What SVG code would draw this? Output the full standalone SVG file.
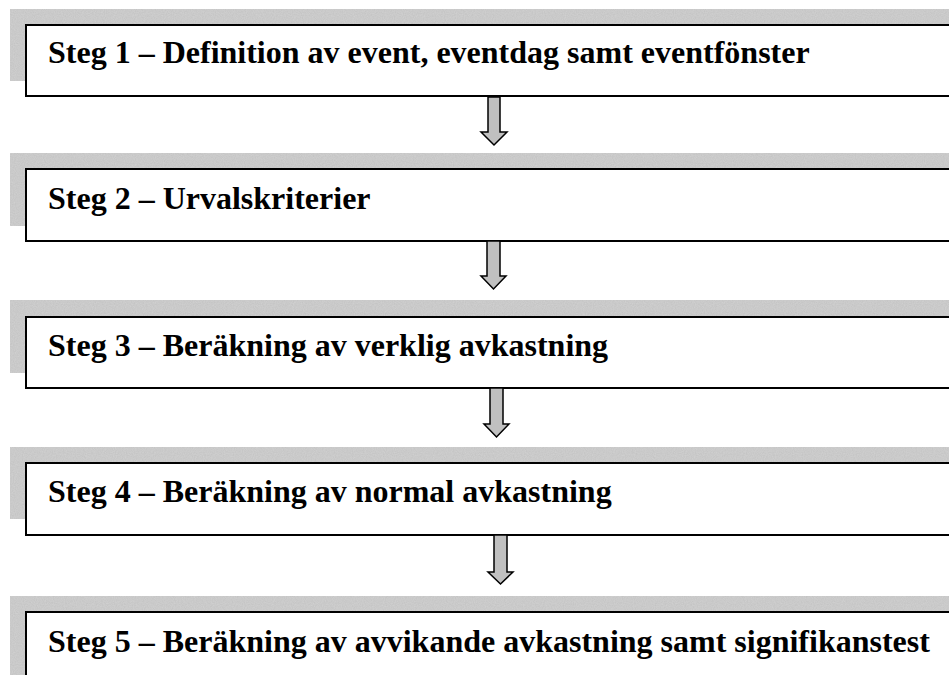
<svg xmlns="http://www.w3.org/2000/svg" width="949" height="675" viewBox="0 0 949 675">
  <defs>
    <filter id="grain" x="0" y="0" width="100%" height="100%">
      <feTurbulence type="fractalNoise" baseFrequency="0.9" numOctaves="2" seed="3" result="n"/>
      <feColorMatrix in="n" type="matrix" values="0 0 0 0 0.74  0 0 0 0 0.74  0 0 0 0 0.74  0.9 0 0 0 0" result="g"/>
      <feComposite in="g" in2="SourceGraphic" operator="in"/>
    </filter>
  </defs>
  <style>
    .shadow { fill: #c2c2c2; }
    .grain { fill: #ffffff; filter: url(#grain); }
    .box { fill: #ffffff; stroke: #000000; stroke-width: 2; }
    .label { font-family: "Liberation Serif", "Times New Roman", serif; font-weight: bold; font-size: 32px; fill: #000000; }
    .arrow { fill: #c0c0c0; stroke: #000000; stroke-width: 1.5; stroke-linejoin: miter; }
  </style>

  <!-- Step 1 -->
  <g id="step1">
    <rect class="shadow" x="10" y="9" width="950" height="72"/>
    <rect class="grain" x="10" y="9" width="950" height="72" opacity="0.6"/>
    <rect class="box" x="26" y="25" width="940" height="71"/>
    <text class="label" x="48" y="63">Steg 1 – Definition av event, eventdag samt eventfönster</text>
  </g>

  <!-- Step 2 -->
  <g id="step2">
    <rect class="shadow" x="10" y="153" width="950" height="73"/>
    <rect class="grain" x="10" y="153" width="950" height="73" opacity="0.6"/>
    <rect class="box" x="26" y="169" width="940" height="72"/>
    <text class="label" x="48" y="209">Steg 2 – Urvalskriterier</text>
  </g>

  <!-- Step 3 -->
  <g id="step3">
    <rect class="shadow" x="10" y="300" width="950" height="73"/>
    <rect class="grain" x="10" y="300" width="950" height="73" opacity="0.6"/>
    <rect class="box" x="26" y="317" width="940" height="71"/>
    <text class="label" x="48" y="356">Steg 3 – Beräkning av verklig avkastning</text>
  </g>

  <!-- Step 4 -->
  <g id="step4">
    <rect class="shadow" x="10" y="447" width="950" height="72"/>
    <rect class="grain" x="10" y="447" width="950" height="72" opacity="0.6"/>
    <rect class="box" x="26" y="463" width="940" height="72"/>
    <text class="label" x="48" y="502">Steg 4 – Beräkning av normal avkastning</text>
  </g>

  <!-- Step 5 -->
  <g id="step5">
    <rect class="shadow" x="10" y="596" width="950" height="90"/>
    <rect class="grain" x="10" y="596" width="950" height="90" opacity="0.6"/>
    <rect class="box" x="26" y="612" width="940" height="90"/>
    <text class="label" x="48" y="652">Steg 5 – Beräkning av avvikande avkastning samt signifikanstest</text>
  </g>

  <!-- Block arrows between steps -->
  <g id="connectors">
    <path class="arrow" d="M488,97 L500,97 L500,132 L507,132 L494,145 L481,132 L488,132 Z"/>
    <path class="arrow" d="M487,241 L500,241 L500,276 L506,276 L493.5,289 L481,276 L487,276 Z"/>
    <path class="arrow" d="M490,388 L503,388 L503,424 L509,424 L496.5,437 L484,424 L490,424 Z"/>
    <path class="arrow" d="M494,535 L507,535 L507,572 L513,572 L500.5,584 L488,572 L494,572 Z"/>
  </g>
</svg>
